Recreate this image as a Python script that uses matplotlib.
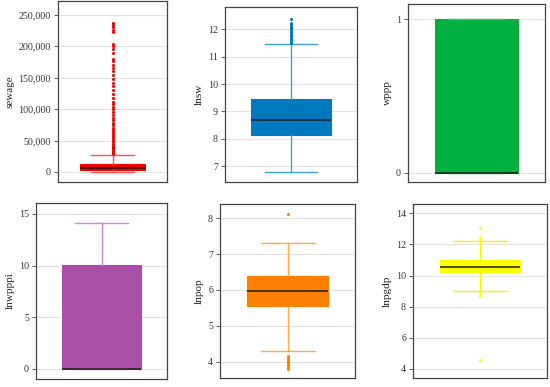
import numpy as np
import matplotlib
matplotlib.use("Agg")
import matplotlib.pyplot as plt
from matplotlib.ticker import FuncFormatter

plt.rcParams['font.family'] = ['Liberation Serif', 'DejaVu Serif']

# ── data ───────────────────────────────────────────────────────
names = ['sewage', 'lnsw', 'wppp', 'lnwpppi', 'lnpop', 'lnpgdp']

q1 = [3700, 8.15, 0, 0, 5.56, 10.2]
med = [6400, 8.70, 0, 0, 5.97, 10.58]
q3 = [12800, 9.47, 1, 10.1, 6.38, 11.0]
wlo = [0, 6.78, 0, 0, 4.30, 9.0]
whi = [27200, 11.45, 1, 14.1, 7.30, 12.2]

fliers_sewage = [28500, 30000, 32000, 34000, 36000, 38000, 40000, 42000, 45000,
                 48000, 51000, 54000, 57000, 60000, 63000, 66000, 70000, 74000,
                 78000, 82000, 86000, 90000, 95000, 100000, 104000, 108000,
                 112000, 118000, 124000, 130000, 136000, 142000, 148000, 155000,
                 160000, 165000, 170000, 176000, 180000, 190000, 195000, 200000,
                 204000, 222000, 226000, 230000, 234000, 237000]
fliers_lnsw = [11.5, 11.55, 11.6, 11.65, 11.7, 11.75, 11.8, 11.85, 11.9, 11.95,
               12.0, 12.05, 12.1, 12.15, 12.2, 12.25, 12.38]
fliers_lnpop = [8.12, 4.15, 4.1, 4.05, 4.0, 3.95, 3.9, 3.85, 3.78]
fliers_lnpgdp = [4.6, 8.7, 8.9, 12.3, 12.5, 13.05]
fliers = [fliers_sewage, fliers_lnsw, [], [], fliers_lnpop, fliers_lnpgdp]

box_colors = ['#f00000', '#0079bf', '#00b140', '#aa4fa8', '#ff8000', '#ffff00']
line_colors = ['#ff5050', '#3a9fd8', '#40c870', '#cc88c8', '#ffa850', '#f4f400']

ylims = [(-16000, 272000), (6.42, 12.82), (-0.062, 1.1), (-0.97, 16.06), (3.54, 8.4), (3.42, 14.6)]
yticks = [np.arange(0, 250001, 50000), np.arange(7, 13), [0, 1],
          [0, 5, 10, 15], [4, 5, 6, 7, 8], [4, 6, 8, 10, 12, 14]]

# axes positions in pixels: left, right, top, bottom
W, H = 550, 387
pos_px = [(58, 167, 1, 182), (225, 357, 7, 182), (408, 545, 4, 182),
          (36, 167, 203, 379), (220, 355, 204, 378), (413, 547, 204, 378)]

fig = plt.figure(figsize=(W / 100, H / 100), dpi=100)

for i, name in enumerate(names):
    l, r, t, b = pos_px[i]
    ax = fig.add_axes([l / W, 1 - b / H, (r - l) / W, (b - t) / H])
    stats = [dict(med=med[i], q1=q1[i], q3=q3[i], whislo=wlo[i], whishi=whi[i],
                  fliers=fliers[i], label='')]
    ax.bxp(stats, positions=[1], widths=0.6, capwidths=0.4, patch_artist=True,
           boxprops=dict(facecolor=box_colors[i], edgecolor=box_colors[i], linewidth=0.8),
           medianprops=dict(color='#1a1a1a', linewidth=1.1),
           whiskerprops=dict(color=line_colors[i], linewidth=1.0),
           capprops=dict(color=line_colors[i], linewidth=1.0),
           flierprops=dict(marker='o', markersize=2.2, markerfacecolor=box_colors[i],
                           markeredgecolor='none', linestyle='none'),
           zorder=3)
    ax.set_xlim(0.5, 1.5)
    ax.set_ylim(*ylims[i])
    ax.set_yticks(yticks[i])
    if i == 0:
        ax.yaxis.set_major_formatter(FuncFormatter(lambda v, p: f'{int(v):,}'))
    ax.set_xticks([])
    ax.set_ylabel(name, fontsize=8, color='#222222', labelpad=3)
    ax.tick_params(axis='y', labelsize=7.2, length=3, width=0.6, colors='#444444',
                   labelcolor='#333333', pad=2)
    ax.grid(axis='y', color='#e3e3e3', linewidth=0.8, zorder=0)
    ax.set_axisbelow(True)
    for s in ax.spines.values():
        s.set_color('#444444')
        s.set_linewidth(0.9)

fig.savefig('out.png', dpi=100)
